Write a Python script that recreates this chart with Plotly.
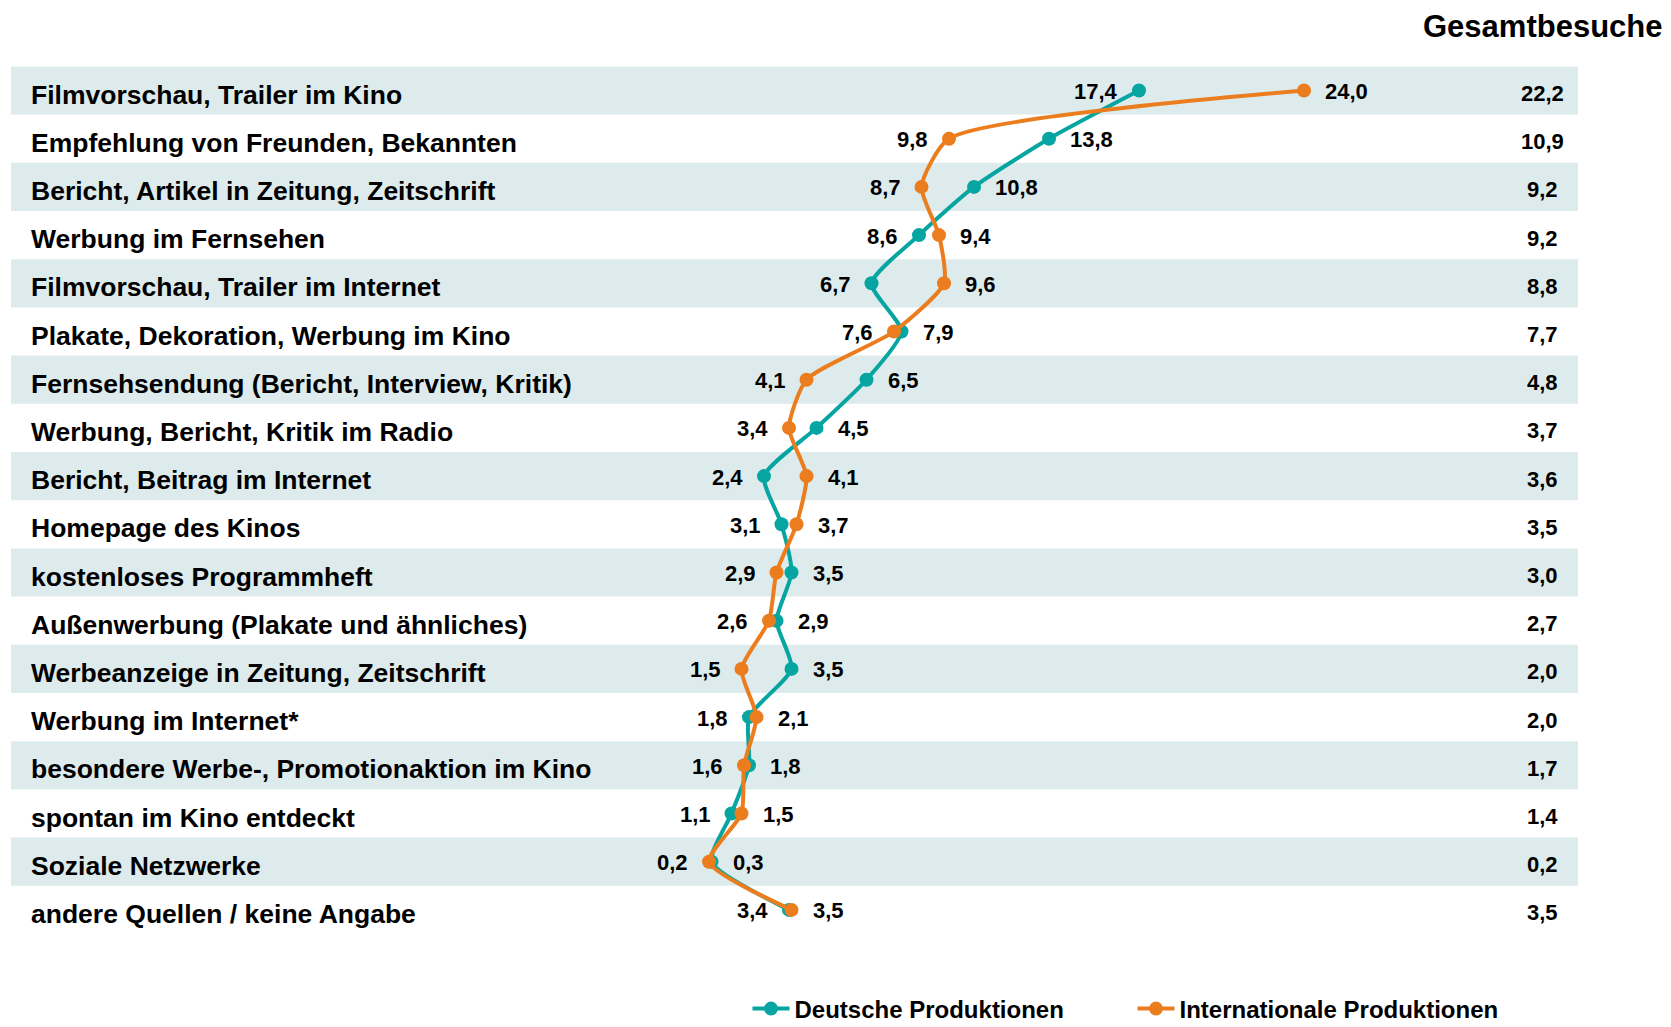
import plotly.graph_objects as go

categories = [
    "Filmvorschau, Trailer im Kino",
    "Empfehlung von Freunden, Bekannten",
    "Bericht, Artikel in Zeitung, Zeitschrift",
    "Werbung im Fernsehen",
    "Filmvorschau, Trailer im Internet",
    "Plakate, Dekoration, Werbung im Kino",
    "Fernsehsendung (Bericht, Interview, Kritik)",
    "Werbung, Bericht, Kritik im Radio",
    "Bericht, Beitrag im Internet",
    "Homepage des Kinos",
    "kostenloses Programmheft",
    "Außenwerbung (Plakate und ähnliches)",
    "Werbeanzeige in Zeitung, Zeitschrift",
    "Werbung im Internet*",
    "besondere Werbe-, Promotionaktion im Kino",
    "spontan im Kino entdeckt",
    "Soziale Netzwerke",
    "andere Quellen / keine Angabe",
]
deutsche = [17.4, 13.8, 10.8, 8.6, 6.7, 7.9, 6.5, 4.5, 2.4, 3.1, 3.5, 2.9, 3.5, 1.8, 1.8, 1.1, 0.3, 3.4]
international = [24.0, 9.8, 8.7, 9.4, 9.6, 7.6, 4.1, 3.4, 4.1, 3.7, 2.9, 2.6, 1.5, 2.1, 1.6, 1.5, 0.2, 3.5]
gesamt = [22.2, 10.9, 9.2, 9.2, 8.8, 7.7, 4.8, 3.7, 3.6, 3.5, 3.0, 2.7, 2.0, 2.0, 1.7, 1.4, 0.2, 3.5]
series_names = ["Deutsche Produktionen", "Internationale Produktionen"]
column_title = "Gesamtbesuche"

TEAL = "#07A5A1"
ORANGE = "#EB7D1E"
BAND = "#DDEBEC"
OFF = 8  # page body margin
W, H = 1671 - OFF, 1027 - OFF
X0_PX, PX_PER_UNIT = 1139 - OFF - 17.4 * 25.0, 25.0
ROW0_PX, ROW_STEP = 90.5 - OFF, 48.2

FONT = "Liberation Sans, Arial, sans-serif"

def fmt(v):
    return f"{v:.1f}".replace(".", ",")

def px(p):
    return (p - OFF) / W

rows = list(range(len(categories)))

fig = go.Figure()
for name, vals, col in [(series_names[0], deutsche, TEAL), (series_names[1], international, ORANGE)]:
    fig.add_trace(go.Scatter(
        x=vals, y=rows, name=name, mode="lines+markers",
        line=dict(color=col, width=4, shape="spline", smoothing=0.6),
        marker=dict(color=col, size=14),
        hoverinfo="skip",
    ))

shapes = []
for i in rows:
    if i % 2 == 0:
        shapes.append(dict(type="rect", xref="paper", yref="y", x0=px(11), x1=px(1578),
                           y0=i - 0.5, y1=i + 0.5, fillcolor=BAND, line=dict(width=0), layer="below"))

annotations = []
label_font = dict(family=FONT, size=22, color="black", weight="bold")
for i, cat in enumerate(categories):
    annotations.append(dict(x=px(28.5), xref="paper", y=i, yref="y", text=cat, showarrow=False,
                            xanchor="left", yanchor="middle", yshift=-4,
                            font=dict(family=FONT, size=26.5, color="black", weight="bold")))
    annotations.append(dict(x=px(1542), xref="paper", y=i, yref="y", text=fmt(gesamt[i]), showarrow=False,
                            xanchor="center", yanchor="middle", yshift=-3, font=label_font))
    d, n = deutsche[i], international[i]
    for v, other in [(d, n), (n, d)]:
        left = v < other
        annotations.append(dict(x=v, xref="x", y=i, yref="y", text=fmt(v), showarrow=False,
                                xanchor="right" if left else "left", yanchor="middle",
                                xshift=-19 if left else 19, yshift=-1, font=label_font))
annotations.append(dict(x=px(1665), xref="paper", y=1 - (27 - OFF) / H, yref="paper", text=column_title,
                        showarrow=False, xanchor="right", yanchor="middle",
                        font=dict(family=FONT, size=31, color="black", weight="bold")))

fig.update_layout(
    width=W, height=H,
    margin=dict(l=0, r=0, t=0, b=0, autoexpand=False),
    paper_bgcolor="white", plot_bgcolor="white",
    xaxis=dict(visible=False, range=[-X0_PX / PX_PER_UNIT, (W - X0_PX) / PX_PER_UNIT], fixedrange=True),
    yaxis=dict(visible=False, range=[(H - ROW0_PX) / ROW_STEP, -ROW0_PX / ROW_STEP], fixedrange=True),
    shapes=shapes,
    annotations=annotations,
    showlegend=True,
    legend=dict(orientation="h", x=px(747.5), xanchor="left", y=1 - (1009 - OFF) / H, yanchor="middle",
                font=dict(family=FONT, size=24, color="black", weight="bold"),
                entrywidth=333, entrywidthmode="pixels", itemwidth=37, bgcolor="rgba(0,0,0,0)"),
)

fig.write_html("out.html")
